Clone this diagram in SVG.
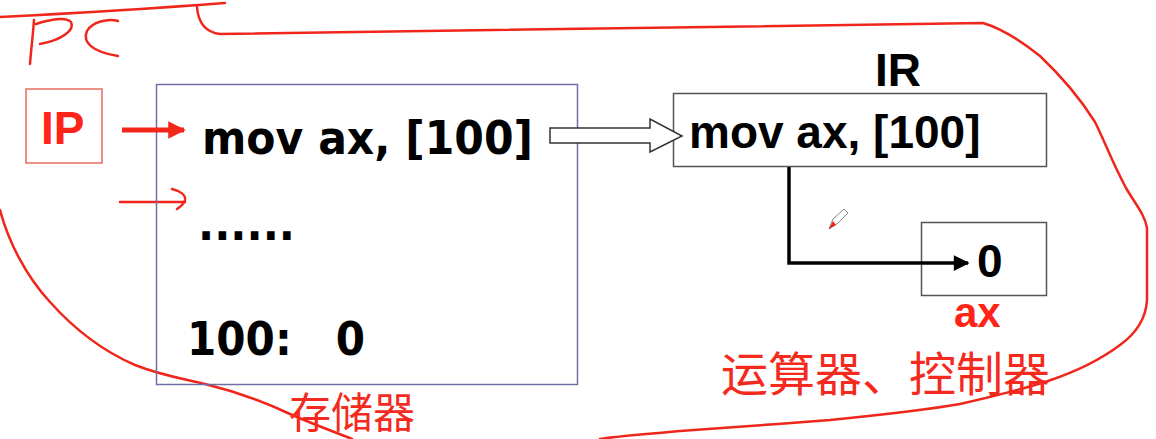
<svg xmlns="http://www.w3.org/2000/svg" width="1156" height="439" viewBox="0 0 1156 439">
<style>
.verd{font-family:"DejaVu Sans","Liberation Sans",sans-serif;font-weight:bold;fill:#000}
.arial{font-family:"Liberation Sans",Arial,sans-serif;font-weight:bold;fill:#000}
.redtxt{font-family:"Liberation Sans",Arial,sans-serif;font-weight:bold;fill:#ff2418}
.cjk{font-family:"Noto Sans CJK SC","Noto Sans",sans-serif;fill:#f52a1e}
.ink{fill:none;stroke:#f0261c;stroke-width:2.5;stroke-linecap:round;stroke-linejoin:round}
</style>
<defs>
<marker id="blackHead" viewBox="0 0 10 10" refX="9" refY="5" markerWidth="5" markerHeight="4.5" orient="auto" markerUnits="strokeWidth">
<path d="M0,0 L10,5 L0,10 Z" fill="#000"/>
</marker>
<marker id="redHead" viewBox="0 0 10 10" refX="9" refY="5" markerWidth="4.5" markerHeight="3.5" orient="auto" markerUnits="strokeWidth">
<path d="M0,0 L10,5 L0,10 Z" fill="#f4261a"/>
</marker>
</defs>
<rect width="1156" height="439" fill="#fff"/>

<!-- handwritten annotations -->
<g id="handwriting">
<path class="ink" d="M0,17 C60,14 120,11 225,3"/>
<path class="ink" d="M34,20 C33,35 31,50 30,64"/>
<path class="ink" d="M36,24 C48,20 66,16 71,22 C75,30 62,40 40,44"/>
<path class="ink" d="M118,21 C108,18 92,22 87,31 C82,42 92,52 118,56"/>
<path class="ink" d="M197,7 C198,20 203,32 220,34 L983,23 C1000,28 1020,40 1040,56 C1060,75 1080,98 1095,122 C1105,142 1112,162 1126,188 C1136,205 1145,215 1147,228 L1147,300 C1146,318 1138,332 1120,345 C1100,360 1075,372 1048,381 C1020,390 995,396 960,404 C920,411 880,415 830,420 C780,424 720,428 680,431 C650,434 620,436 600,439"/>
<path class="ink" d="M0,210 C8,240 25,275 50,302 C75,330 105,352 135,365 C160,375 180,378 205,384 C230,390 260,400 290,414 C315,425 335,432 352,439"/>
<path class="ink" d="M120,202 L185,202"/>
<path class="ink" d="M172,189 C180,191 186,195 185,200 C184,204 180,207 177,209"/>
</g>

<!-- pen cursor -->
<g id="cursor">
<path d="M829,229 L833,219 L844,209 L848,213 L838,223 Z" fill="#fff" stroke="#666" stroke-width="0.8"/>
<path d="M829,229 L833,221 L836,225 Z" fill="#e8281c"/>
</g>

<g id="ip">
<rect x="26" y="89" width="76" height="74" fill="#fff" stroke="#e86a60" stroke-width="1.5"/>
<text class="redtxt" x="41" y="144" font-size="46">IP</text>
</g>

<g id="memory">
<rect x="156.5" y="84.5" width="421" height="300" fill="none" stroke="#6d6da8" stroke-width="1.5"/>
<text class="verd" x="202" y="154" font-size="46" textLength="331" lengthAdjust="spacingAndGlyphs">mov ax, [100]</text>
<text class="verd" x="198" y="240" font-size="46" textLength="97" lengthAdjust="spacingAndGlyphs">......</text>
<text class="verd" x="187" y="355" font-size="46" textLength="178" lengthAdjust="spacingAndGlyphs" xml:space="preserve">100:   0</text>
</g>
<text class="cjk" x="289" y="428" font-size="42">存储器</text>

<g id="ir">
<text class="arial" x="875" y="86" font-size="46">IR</text>
<rect x="673.5" y="93.5" width="373" height="73" fill="#fff" stroke="#555" stroke-width="1.5"/>
<text class="arial" x="689" y="148" font-size="46">mov ax, [100]</text>
</g>

<g id="ax">
<rect x="921.5" y="222.5" width="125" height="73" fill="#fff" stroke="#555" stroke-width="1.5"/>
<text class="arial" x="977" y="277" font-size="46">0</text>
<text class="redtxt" x="954" y="327" font-size="42">ax</text>
</g>
<text class="cjk" x="721" y="391" font-size="47">运算器、控制器</text>

<g id="connectors">
<path d="M122,130 L184,130" stroke="#f4261a" stroke-width="5" fill="none" marker-end="url(#redHead)"/>
<path d="M550,128 L650,128 L650,119 L682,136 L650,152 L650,143 L550,143 Z" fill="#fff" stroke="#333" stroke-width="1.5" stroke-linejoin="miter"/>
<path d="M789,167 L789,263 L968,263" fill="none" stroke="#000" stroke-width="3.5" marker-end="url(#blackHead)"/>
</g>
</svg>
